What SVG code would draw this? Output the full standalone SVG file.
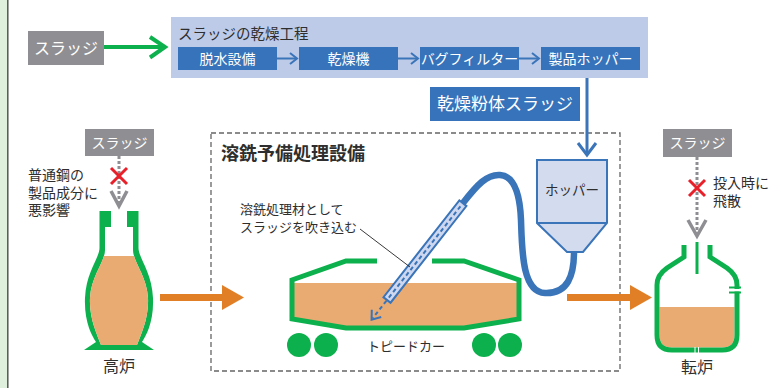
<svg xmlns="http://www.w3.org/2000/svg" width="781" height="388" viewBox="0 0 781 388">
  <style>
    text { font-family: "Noto Sans CJK JP", "Noto Sans", sans-serif; }
    .dark { fill: #2e2e2e; }
    .wt { fill: #ffffff; }
    .mid { text-anchor: middle; }
    .gbox { fill: #8f8f93; }
    .bbox { fill: #3773ba; }
    .gline { stroke: #0cb04c; fill: none; }
    .bline { stroke: #3a74b9; fill: none; }
    .slag-drop { stroke: #8f8f93; stroke-width: 3; stroke-dasharray: 3 2; fill: none; }
    .chev { stroke: #8f8f93; stroke-width: 3.5; fill: none; }
    .cross { stroke: #e8202a; stroke-width: 3; }
    .ore { fill: #e9ab72; }
    .flow { fill: #e17f27; }
  </style>

  <!-- side margin -->
  <rect x="0" y="0" width="7" height="388" fill="#dff0dc"/>
  <line x1="7.8" y1="0" x2="7.8" y2="388" stroke="#555" stroke-width="1.5"/>

  <!-- sludge source -->
  <g id="sludge-src">
    <rect class="gbox" x="28" y="31" width="76" height="34"/>
    <text class="wt mid" x="66" y="54" font-size="16">スラッジ</text>
  </g>

  <!-- drying process panel -->
  <g id="drying-process">
    <rect x="171" y="17" width="477" height="61" fill="#bdcbe8"/>
    <text class="dark" x="178" y="38.5" font-size="14.5">スラッジの乾燥工程</text>
  </g>
  <g id="dewatering">
    <rect class="bbox" x="178" y="47" width="99" height="23"/>
    <text class="wt mid" x="227.5" y="63.5" font-size="14">脱水設備</text>
  </g>
  <g id="dryer">
    <rect class="bbox" x="299" y="47" width="99" height="23"/>
    <text class="wt mid" x="348.5" y="63.5" font-size="14">乾燥機</text>
  </g>
  <g id="bag-filter">
    <rect class="bbox" x="420" y="47" width="99" height="23"/>
    <text class="wt mid" x="469.5" y="63.5" font-size="14">バグフィルター</text>
  </g>
  <g id="product-hopper">
    <rect class="bbox" x="541" y="47" width="99" height="23"/>
    <text class="wt mid" x="590.5" y="63.5" font-size="14">製品ホッパー</text>
  </g>
  <g id="dry-powder">
    <rect class="bbox" x="430" y="87" width="150" height="34"/>
    <text class="wt mid" x="505" y="110" font-size="17">乾燥粉体スラッジ</text>
  </g>

  <!-- pretreatment facility frame -->
  <g id="pretreatment">
    <rect x="211" y="133" width="409" height="238" fill="none" stroke="#666" stroke-width="1.3" stroke-dasharray="5 3"/>
    <text class="dark" x="221" y="160" font-size="18" font-weight="bold">溶銑予備処理設備</text>
  </g>

  <!-- blast furnace -->
  <g id="blast-furnace">
    <defs>
      <clipPath id="bf-cavity">
        <path d="M111,209 H127 V227 H133 V250 C133,262 147,276 148,298 C149,318 141,334 137,345 H101 C97,334 89,318 90,298 C91,276 105,262 105,250 V227 H111 Z"/>
      </clipPath>
    </defs>
    <path d="M99.5,211 H138.5 V248 C138.5,258 152,272 153,298 C154,322 146,336 142,342 L154,350 H84 L96,342 C92,336 84,322 85,298 C86,272 99.5,258 99.5,248 Z" fill="#0cb04c"/>
    <path d="M111,209 H127 V227 H133 V250 C133,262 147,276 148,298 C149,318 141,334 137,345 H101 C97,334 89,318 90,298 C91,276 105,262 105,250 V227 H111 Z" fill="#fff"/>
    <rect class="ore" x="80" y="256" width="80" height="100" clip-path="url(#bf-cavity)"/>
    <text class="dark mid" x="119" y="372" font-size="16">高炉</text>
  </g>

  <!-- sludge to blast furnace (rejected) -->
  <g id="sludge-bf">
    <rect class="gbox" x="85" y="129" width="69" height="27"/>
    <text class="wt mid" x="119.5" y="147.5" font-size="14">スラッジ</text>
    <line class="slag-drop" x1="119" y1="156" x2="119" y2="204"/>
    <polyline class="chev" points="111,191 119,206 127,191"/>
    <line class="cross" x1="111" y1="168" x2="127" y2="184"/>
    <line class="cross" x1="127" y1="168" x2="111" y2="184"/>
    <text class="dark" font-size="14">
      <tspan x="28" y="180">普通鋼の</tspan>
      <tspan x="28" y="197.5">製品成分に</tspan>
      <tspan x="28" y="215">悪影響</tspan>
    </text>
  </g>

  <!-- hopper with hose -->
  <g id="hose">
    <path class="bline" stroke-width="6.5" stroke-linecap="round" d="M463,203 C477,185 487,174 500,175 C515,176 520,195 521,220 C522,250 522,292 545,293 C568,294 574,275 574,252"/>
  </g>
  <g id="hopper">
    <path d="M537,160 H607 V223 L583,252 H567 L537,223 Z" fill="#d3dbef" stroke="#3a74b9" stroke-width="2"/>
    <line x1="537" y1="223" x2="607" y2="223" stroke="#3a74b9" stroke-width="2"/>
    <text class="dark mid" x="572" y="195" font-size="13.5">ホッパー</text>
  </g>

  <!-- torpedo car -->
  <g id="torpedo-car">
    <polygon class="ore" points="292,283 519,283 519,319 464,328 346,328 292,319"/>
    <path class="gline" stroke-width="5" d="M377,261 H346 L292,280 V319 L346,328 H464 L519,319 V280 L464,261 H432"/>
    <circle cx="299" cy="345" r="12" fill="#0cb04c"/>
    <circle cx="326" cy="345" r="12" fill="#0cb04c"/>
    <circle cx="484" cy="345" r="12" fill="#0cb04c"/>
    <circle cx="510" cy="345" r="12" fill="#0cb04c"/>
    <text class="dark mid" x="406" y="351" font-size="13">トピードカー</text>
  </g>

  <!-- injection lance -->
  <g id="lance" transform="translate(387,300) rotate(-51.9)">
    <rect x="0" y="-4.5" width="123" height="9" fill="#cdd7ef" stroke="#3a74b9" stroke-width="2"/>
    <line x1="3" y1="0" x2="121" y2="0" stroke="#3a74b9" stroke-width="2" stroke-dasharray="4 3"/>
    <line x1="-1" y1="0" x2="-23" y2="0" stroke="#3a74b9" stroke-width="2" stroke-dasharray="4 3"/>
    <polyline points="-17,-6 -25,0 -17,6" fill="none" stroke="#3a74b9" stroke-width="2"/>
  </g>
  <g id="lance-note">
    <text class="dark" font-size="13">
      <tspan x="240" y="214">溶銑処理材として</tspan>
      <tspan x="240" y="232">スラッジを吹き込む</tspan>
    </text>
  </g>

  <!-- converter -->
  <g id="converter">
    <path class="ore" d="M659.5,307 H734.5 V335 Q734.5,347.5 722,347.5 H672 Q659.5,347.5 659.5,335 Z"/>
    <path class="gline" stroke-width="5" d="M684,245 V257 L667,268 Q657,275 657,285 V335 Q657,350 672,350 H722 Q737,350 737,335 V285 Q737,275 727,268 L710,257 V245"/>
    <line x1="697" y1="242" x2="697" y2="274" stroke="#0cb04c" stroke-width="3"/>
    <rect x="733" y="289" width="8" height="2.5" fill="#fff"/>
    <line x1="729" y1="287.5" x2="741" y2="287.5" stroke="#0cb04c" stroke-width="2"/>
    <line x1="729" y1="292.5" x2="741" y2="292.5" stroke="#0cb04c" stroke-width="2"/>
    <line x1="695" y1="347" x2="695" y2="353" stroke="#fff" stroke-width="1"/>
    <line x1="698.5" y1="347" x2="698.5" y2="353" stroke="#fff" stroke-width="1"/>
    <text class="dark mid" x="697" y="373" font-size="16">転炉</text>
  </g>

  <!-- sludge to converter (rejected) -->
  <g id="sludge-cv">
    <rect class="gbox" x="663" y="129" width="69" height="28"/>
    <text class="wt mid" x="697.5" y="148" font-size="14">スラッジ</text>
    <line class="slag-drop" x1="697" y1="157" x2="697" y2="233"/>
    <polyline class="chev" points="688,220 697,236 706,220"/>
    <line class="cross" x1="689" y1="180" x2="705" y2="196"/>
    <line class="cross" x1="705" y1="180" x2="689" y2="196"/>
    <text class="dark" font-size="14">
      <tspan x="713" y="188">投入時に</tspan>
      <tspan x="713" y="206">飛散</tspan>
    </text>
  </g>

  <!-- connectors -->
  <g id="connectors">
    <!-- sludge into drying -->
    <line x1="104" y1="47" x2="164" y2="47" stroke="#0cb04c" stroke-width="4"/>
    <polyline points="150,37 165,47 150,57.5" fill="none" stroke="#0cb04c" stroke-width="4"/>
    <!-- drying steps -->
    <g class="bline" stroke-width="2">
      <line x1="277" y1="58.5" x2="296" y2="58.5"/>
      <polyline points="290,53 297,58.5 290,64"/>
      <line x1="398" y1="58.5" x2="417" y2="58.5"/>
      <polyline points="411,53 418,58.5 411,64"/>
      <line x1="519" y1="58.5" x2="538" y2="58.5"/>
      <polyline points="532,53 539,58.5 532,64"/>
    </g>
    <!-- dried powder to hopper -->
    <line class="bline" stroke-width="3" x1="587" y1="78" x2="587" y2="154"/>
    <polyline class="bline" stroke-width="3" points="578,143 587,155 596,143"/>
    <!-- lance note leader -->
    <line x1="360" y1="229" x2="410" y2="267" stroke="#222" stroke-width="0.9"/>
    <!-- hot metal flow -->
    <rect class="flow" x="160" y="294" width="63" height="7"/>
    <polygon class="flow" points="222,285 244,297.5 222,310"/>
    <rect class="flow" x="567" y="294" width="64" height="7"/>
    <polygon class="flow" points="630,285 652,297.5 630,310"/>
  </g>
</svg>
